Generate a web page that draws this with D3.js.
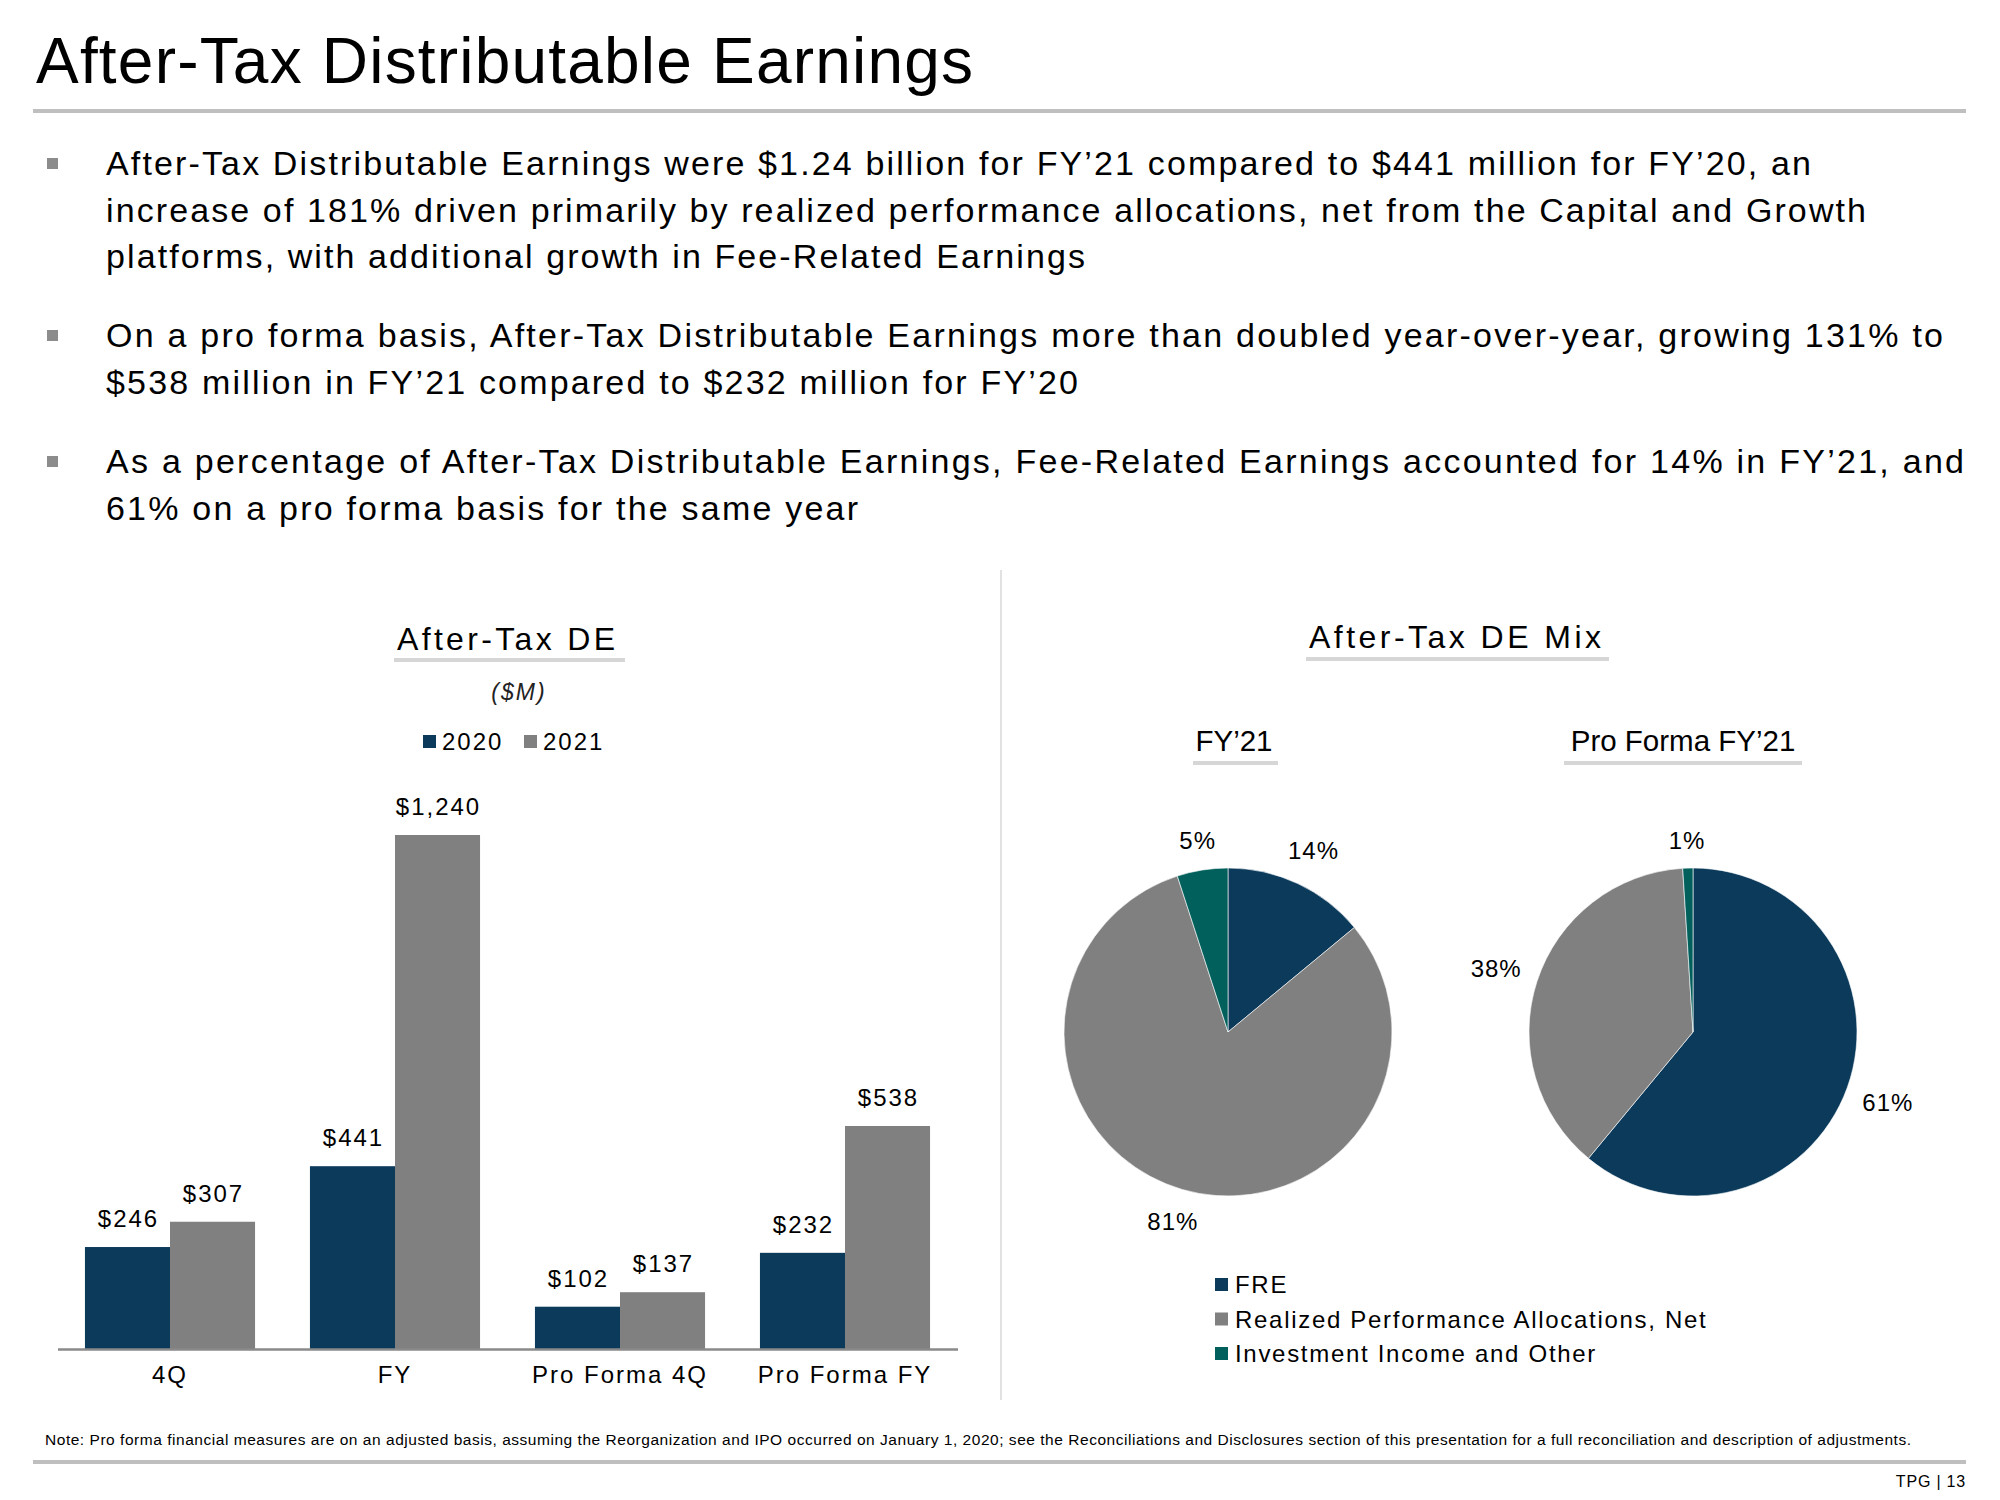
<!DOCTYPE html>
<html>
<head>
<meta charset="utf-8">
<script src="https://cdn.jsdelivr.net/npm/d3@7"></script>
<style>
  html, body { margin: 0; padding: 0; background: #fff; }
  svg { display: block; font-family: "Liberation Sans", Arial, sans-serif; }
</style>
</head>
<body>
<svg id="chart" width="2000" height="1500"></svg>
<script>
// ---------- data ----------
const pageTitle = "After-Tax Distributable Earnings";
const bulletLines = [
  ["After-Tax Distributable Earnings were $1.24 billion for FY’21 compared to $441 million for FY’20, an",
   "increase of 181% driven primarily by realized performance allocations, net from the Capital and Growth",
   "platforms, with additional growth in Fee-Related Earnings"],
  ["On a pro forma basis, After-Tax Distributable Earnings more than doubled year-over-year, growing 131% to",
   "$538 million in FY’21 compared to $232 million for FY’20"],
  ["As a percentage of After-Tax Distributable Earnings, Fee-Related Earnings accounted for 14% in FY’21, and",
   "61% on a pro forma basis for the same year"]
];
const bulletLineWidths = [[1705, 1760, 979], [1837, 972], [1858, 752]];

const categories = ["4Q", "FY", "Pro Forma 4Q", "Pro Forma FY"];
const seriesNames = ["2020", "2021"];
const values2020 = [246, 441, 102, 232];
const values2021 = [307, 1240, 137, 538];

const mixSegments = ["FRE", "Realized Performance Allocations, Net", "Investment Income and Other"];
const mixFY21 = [14, 81, 5];
const mixProFormaFY21 = [61, 38, 1];
const pieTitles = ["FY’21", "Pro Forma FY’21"];

const footNote = "Note: Pro forma financial measures are on an adjusted basis, assuming the Reorganization and IPO occurred on January 1, 2020; see the Reconciliations and Disclosures section of this presentation for a full reconciliation and description of adjustments.";
const pageNumber = "TPG | 13";

// ---------- styles ----------
const NAVY = "#0b3a5b", GRAY = "#808080", TEAL = "#02605c";
const RULE = "#bfbfbf", UNDER = "#d6d6d6";
const seriesColor = d3.scaleOrdinal().domain(seriesNames).range([NAVY, GRAY]);
const mixColor = d3.scaleOrdinal().domain(mixSegments).range([NAVY, GRAY, TEAL]);

const svg = d3.select("#chart");

// ---------- header ----------
svg.append("text").attr("x", 36).attr("y", 83)
  .attr("font-size", 64).attr("fill", "#000")
  .attr("textLength", 937).attr("lengthAdjust", "spacing")
  .text(pageTitle);
svg.append("rect").attr("x", 33).attr("y", 109).attr("width", 1933).attr("height", 4).attr("fill", RULE);

// bullets
const bulletTop = [175, 347, 473];
const lineGap = 46.5;
bulletLines.forEach((lines, i) => {
  svg.append("rect").attr("x", 47).attr("y", bulletTop[i] - 17).attr("width", 11).attr("height", 11).attr("fill", "#8c8c8c");
  lines.forEach((ln, j) => {
    svg.append("text").attr("x", 106).attr("y", bulletTop[i] + j * lineGap)
      .attr("font-size", 34).attr("fill", "#000")
      .attr("textLength", bulletLineWidths[i][j]).attr("lengthAdjust", "spacing")
      .text(ln);
  });
});

// vertical divider
svg.append("line").attr("x1", 1001).attr("x2", 1001).attr("y1", 570).attr("y2", 1400)
  .attr("stroke", "#d9d9d9").attr("stroke-width", 1.5);

// ---------- bar chart ----------
function sectionTitle(cx, baseline, txt, len, size, underX0, underX1, underY, spaced) {
  const t = svg.append("text").attr("x", cx).attr("y", baseline).attr("text-anchor", "middle")
    .attr("font-size", size).attr("fill", "#000").text(txt);
  if (spaced) t.attr("textLength", len).attr("lengthAdjust", "spacing");
  svg.append("rect").attr("x", underX0).attr("y", underY - 2).attr("width", underX1 - underX0).attr("height", 4).attr("fill", UNDER);
}
sectionTitle(506, 650, "After-Tax DE", 218, 32, 394, 625, 660, true);
svg.append("text").attr("x", 519).attr("y", 700).attr("text-anchor", "middle")
  .attr("font-size", 23).attr("font-style", "italic").attr("letter-spacing", 2).attr("fill", "#222").text("($M)");

// legend 2020 / 2021
const legX = [423, 524];
seriesNames.forEach((s, i) => {
  svg.append("rect").attr("x", legX[i]).attr("y", 735).attr("width", 13).attr("height", 13).attr("fill", seriesColor(s));
  svg.append("text").attr("x", legX[i] + 19).attr("y", 750).attr("font-size", 24).attr("letter-spacing", 2).attr("fill", "#000").text(s);
});

const x0 = d3.scaleBand().domain(categories).range([57.5, 957.5]).paddingInner(0.244).paddingOuter(0.122);
const x1 = d3.scaleBand().domain(seriesNames).range([0, x0.bandwidth()]);
const y = d3.scaleLinear().domain([0, d3.max(values2021)]).range([1349, 835]);

const barData = categories.map((c, i) => ({ cat: c, vals: [
  { s: seriesNames[0], v: values2020[i] },
  { s: seriesNames[1], v: values2021[i] } ] }));

const groups = svg.append("g").selectAll("g").data(barData).join("g")
  .attr("transform", d => `translate(${x0(d.cat)},0)`);
groups.selectAll("rect").data(d => d.vals).join("rect")
  .attr("x", d => x1(d.s)).attr("width", x1.bandwidth())
  .attr("y", d => y(d.v)).attr("height", d => y(0) - y(d.v))
  .attr("fill", d => seriesColor(d.s));
const fmt = d3.format(",");
groups.selectAll("text").data(d => d.vals).join("text")
  .attr("x", d => x1(d.s) + x1.bandwidth() / 2 + 1)
  .attr("y", d => y(d.v) - 20)
  .attr("text-anchor", "middle").attr("font-size", 24).attr("letter-spacing", 2).attr("fill", "#000")
  .text(d => "$" + fmt(d.v));

const axis = svg.append("g").attr("transform", `translate(0,${y(0)})`)
  .call(d3.axisBottom(x0).tickSize(0).tickSizeOuter(0).tickPadding(17));
axis.select(".domain").attr("stroke", "#8a8a8a").attr("stroke-width", 2.5);
axis.selectAll(".tick text").attr("font-size", 24).attr("letter-spacing", 2)
  .attr("fill", "#000").attr("font-family", "Liberation Sans, Arial, sans-serif");

// ---------- pies ----------
sectionTitle(1455, 648, "After-Tax DE Mix", 292, 32, 1306, 1609, 659, true);

const pieCenters = [[1228, 1032], [1693, 1032]];
const pieTitleX = [1234, 1683];
const pieUnder = [[1193, 1278], [1564, 1802]];
const R = 164;
const pie = d3.pie().sort(null).value(d => d.v);
const arc = d3.arc().innerRadius(0).outerRadius(R);

[mixFY21, mixProFormaFY21].forEach((vals, k) => {
  sectionTitle(pieTitleX[k], 751, pieTitles[k], 0, 29.5, pieUnder[k][0], pieUnder[k][1], 763, false);
  const data = pie(mixSegments.map((s, i) => ({ s, v: vals[i] })));
  const g = svg.append("g").attr("transform", `translate(${pieCenters[k][0]},${pieCenters[k][1]})`);
  g.selectAll("path").data(data).join("path")
    .attr("d", arc).attr("fill", d => mixColor(d.data.s))
    .attr("stroke", "#fff").attr("stroke-width", 0.6);
  g.selectAll("text").data(data).join("text")
    .attr("text-anchor", "middle").attr("font-size", 24).attr("letter-spacing", 1).attr("fill", "#000")
    .text(d => d.data.v + "%")
    .each(function(d) {
      const w = this.getComputedTextLength();
      const a = (d.startAngle + d.endAngle) / 2;
      const s = Math.sin(a), c = Math.cos(a);
      const rr = R + 15 + Math.abs(s) * w / 2 + Math.abs(c) * 12;
      d3.select(this).attr("x", rr * s).attr("y", -rr * c + 8.5);
    });
});

// mix legend
mixSegments.forEach((s, i) => {
  const base = 1293 + i * 34.5;
  svg.append("rect").attr("x", 1215).attr("y", base - 15).attr("width", 13).attr("height", 13).attr("fill", mixColor(s));
  svg.append("text").attr("x", 1235).attr("y", base).attr("font-size", 24).attr("letter-spacing", 1.7).attr("fill", "#000").text(s);
});

// ---------- footer ----------
svg.append("text").attr("x", 45).attr("y", 1445).attr("font-size", 15.5).attr("fill", "#000")
  .attr("textLength", 1866).attr("lengthAdjust", "spacing").text(footNote);
svg.append("rect").attr("x", 33).attr("y", 1460).attr("width", 1933).attr("height", 4).attr("fill", RULE);
svg.append("text").attr("x", 1966).attr("y", 1487).attr("text-anchor", "end").attr("font-size", 16)
  .attr("letter-spacing", 0.8).attr("fill", "#000").text(pageNumber);
</script>
</body>
</html>
